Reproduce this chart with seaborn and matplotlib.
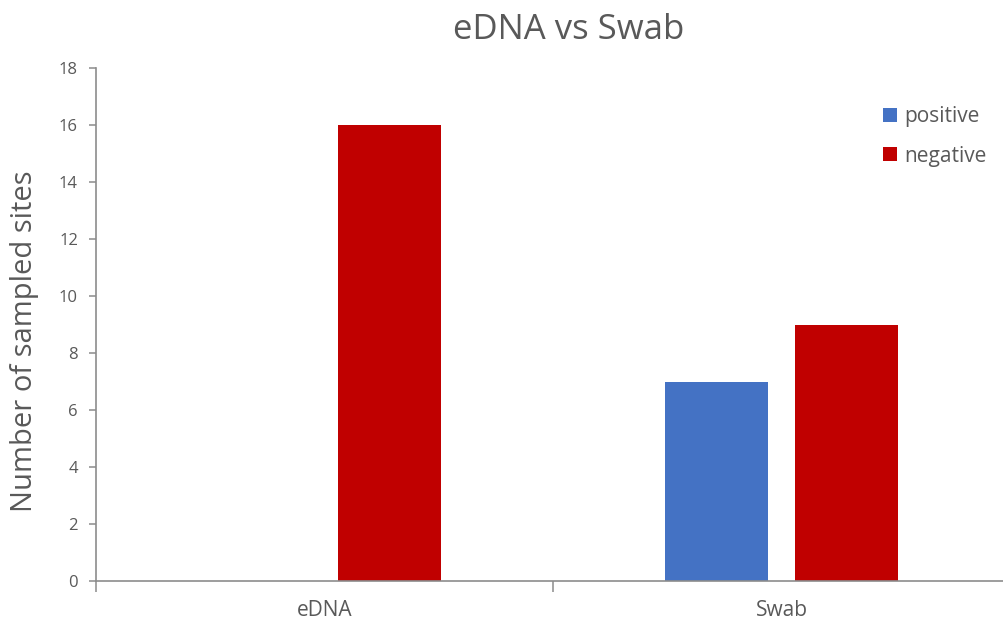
import matplotlib
matplotlib.use("Agg")
import matplotlib.pyplot as plt
import seaborn as sns
import pandas as pd
from matplotlib.ticker import FixedLocator

# Data
methods = ["eDNA", "Swab"]
results = ["positive", "negative"]
positive_counts = [0, 7]
negative_counts = [16, 9]
y_ticks = [0, 2, 4, 6, 8, 10, 12, 14, 16, 18]

df = pd.DataFrame({
    "method": methods * 2,
    "result": [results[0]] * len(methods) + [results[1]] * len(methods),
    "count": positive_counts + negative_counts,
})

sns.set_theme(style="white")
plt.rcParams["font.family"] = ["Open Sans", "DejaVu Sans"]

fig = plt.figure(figsize=(10.04, 6.23), dpi=100)
ax = fig.add_axes([96 / 1004, 42 / 623, 914 / 1004, 513 / 623])

palette = {"positive": "#4472C4", "negative": "#C00000"}
sns.barplot(data=df, x="method", y="count", hue="result", order=methods,
            hue_order=results, palette=palette, width=0.57, gap=0.21,
            linewidth=0, saturation=1, ax=ax)

ax.set_xlim(-0.5, 1.5)
ax.set_ylim(0, 18)
ax.set_yticks(y_ticks)

axis_grey = "#8c8c8c"
text_grey = "#595959"
for side in ["top", "right"]:
    ax.spines[side].set_visible(False)
for side in ["left", "bottom"]:
    ax.spines[side].set_color(axis_grey)
    ax.spines[side].set_linewidth(1.2)

ax.tick_params(axis="y", which="major", left=True, length=5, width=1.1,
               color=axis_grey, labelcolor=text_grey, labelsize=12, pad=8)
ax.tick_params(axis="x", which="major", bottom=False, length=0,
               labelcolor=text_grey, labelsize=15, pad=14)
ax.xaxis.set_minor_locator(FixedLocator([-0.5, 0.5, 1.5]))
ax.tick_params(axis="x", which="minor", bottom=True, length=8, width=1.1,
               color=axis_grey)

ax.set_xlabel("")
ax.set_ylabel("")
fig.text(25 / 1004, 1 - 341 / 623, "Number of sampled sites", rotation=90,
         ha="center", va="center", fontsize=21, color=text_grey)
fig.text(0.5662, 0.952, "eDNA vs Swab", ha="center", va="center",
         fontsize=25, color=text_grey)

handles, labels = ax.get_legend_handles_labels()
ax.legend(handles, labels, frameon=False, loc="upper right",
          bbox_transform=fig.transFigure, bbox_to_anchor=(1.001, 0.86),
          handlelength=0.65, handleheight=0.65, handletextpad=0.35,
          labelspacing=0.9, fontsize=15, labelcolor=text_grey)

fig.savefig("out.png", dpi=100)
